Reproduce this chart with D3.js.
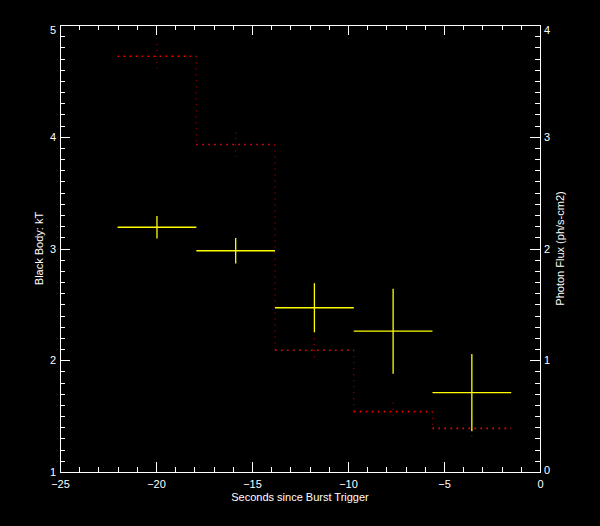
<!DOCTYPE html>
<html><head><meta charset="utf-8">
<script src="https://cdn.jsdelivr.net/npm/d3@7"></script>
<style>
html,body{margin:0;padding:0;background:#000;}
svg{display:block;}
text{font-family:"Liberation Sans","DejaVu Sans",sans-serif;fill:#fff;}
</style></head>
<body>
<script>
// ---- data ----
const binEdges = [-22, -17.9, -13.8, -9.7, -5.6, -1.5];
const kT = [3.19, 2.98, 2.47, 2.26, 1.71];
const kTErr = [0.10, 0.115, 0.22, 0.38, 0.345];
const flux = [3.72, 2.93, 1.09, 0.54, 0.39];
const fluxErr = [0.11, 0.11, 0.107, 0.08, 0.10];
const xTicks = [-25, -20, -15, -10, -5, 0];
const leftTicks = [1, 2, 3, 4, 5];
const rightTicks = [0, 1, 2, 3, 4];
const xTitle = "Seconds since Burst Trigger";
const leftTitle = "Black Body: kT";
const rightTitle = "Photon Flux (ph/s-cm2)";

const W = 600, H = 526;
const L = 60, R = 540, T = 25, B = 472;
const svg = d3.select("body").append("svg").attr("width", W).attr("height", H);
svg.append("rect").attr("width", W).attr("height", H).attr("fill", "#000");

const x = d3.scaleLinear().domain([-25, 0]).range([L, R]);
const yL = d3.scaleLinear().domain([1, 5]).range([B, T]);
const yR = d3.scaleLinear().domain([0, 4]).range([B, T]);

const fmt = v => (v < 0 ? "\u2212" + Math.abs(v) : String(v));
const xMinor = d3.range(-25, 0.001, 1).filter(v => !xTicks.includes(v));
const lMinor = d3.range(10, 50.001, 1).map(v => v / 10).filter(v => !leftTicks.includes(Math.round(v*10)/10) );
const rMinor = d3.range(0, 40.001, 1).map(v => v / 10).filter(v => !rightTicks.includes(Math.round(v*10)/10));

function style(g) {
  g.selectAll("path,line").attr("stroke", "#fff").attr("stroke-width", 1).attr("shape-rendering", "crispEdges");
  g.selectAll("text").attr("fill", "#fff").attr("font-size", 11)
    .attr("font-family", "Liberation Sans, DejaVu Sans, sans-serif");
}

// bottom axis
let g = svg.append("g").attr("transform", `translate(0,${B})`)
  .call(d3.axisBottom(x).tickValues(xTicks).tickFormat(fmt).tickSizeInner(-10).tickSizeOuter(0).tickPadding(8));
style(g);
g = svg.append("g").attr("transform", `translate(0,${B})`)
  .call(d3.axisBottom(x).tickValues(xMinor).tickFormat("").tickSizeInner(-5).tickSizeOuter(0));
style(g);
// top axis
g = svg.append("g").attr("transform", `translate(0,${T})`)
  .call(d3.axisTop(x).tickValues(xTicks).tickFormat("").tickSizeInner(-10).tickSizeOuter(0));
style(g);
g = svg.append("g").attr("transform", `translate(0,${T})`)
  .call(d3.axisTop(x).tickValues(xMinor).tickFormat("").tickSizeInner(-5).tickSizeOuter(0));
style(g);
// left axis
g = svg.append("g").attr("transform", `translate(${L},0)`)
  .call(d3.axisLeft(yL).tickValues(leftTicks).tickFormat(d3.format("d")).tickSizeInner(-10).tickSizeOuter(0).tickPadding(4));
style(g);
g.selectAll(".tick text").attr("dy", (d) => d === 5 ? "0.75em" : "0.32em");
g = svg.append("g").attr("transform", `translate(${L},0)`)
  .call(d3.axisLeft(yL).tickValues(lMinor).tickFormat("").tickSizeInner(-5).tickSizeOuter(0));
style(g);
// right axis
g = svg.append("g").attr("transform", `translate(${R},0)`)
  .call(d3.axisRight(yR).tickValues(rightTicks).tickFormat(d3.format("d")).tickSizeInner(-10).tickSizeOuter(0).tickPadding(4));
style(g);
g.selectAll(".tick text").attr("dy", (d) => d === 4 ? "0.75em" : (d === 0 ? "0.1em" : "0.32em"));
g = svg.append("g").attr("transform", `translate(${R},0)`)
  .call(d3.axisRight(yR).tickValues(rMinor).tickFormat("").tickSizeInner(-5).tickSizeOuter(0));
style(g);

// titles
svg.append("text").attr("x", (L + R) / 2).attr("y", 501).attr("text-anchor", "middle")
  .attr("font-size", 11).text(xTitle);
svg.append("text").attr("transform", `translate(43,${(T + B) / 2}) rotate(-90)`).attr("text-anchor", "middle")
  .attr("font-size", 11).text(leftTitle);
svg.append("text").attr("transform", `translate(564,${(T + B) / 2}) rotate(-90)`).attr("text-anchor", "middle")
  .attr("font-size", 11).text(rightTitle);

// step line (photon flux), dotted red
const bins = flux.map((f, i) => ({ x0: binEdges[i], x1: binEdges[i + 1], f, e: fluxErr[i], k: kT[i], ke: kTErr[i] }));
const stepG = svg.append("g");
bins.forEach((b, i) => {
  stepG.append("line").attr("x1", x(b.x0)).attr("x2", x(b.x1)).attr("y1", yR(b.f)).attr("y2", yR(b.f))
    .attr("stroke", "#ff0000").attr("stroke-width", 1.6).attr("stroke-dasharray", "1.6,4.4");
  if (i < bins.length - 1) {
    stepG.append("line").attr("x1", x(b.x1)).attr("x2", x(b.x1)).attr("y1", yR(b.f)).attr("y2", yR(bins[i + 1].f))
      .attr("stroke", "#cc0000").attr("stroke-width", 1).attr("stroke-dasharray", "1,5");
  }
  const cx = x((b.x0 + b.x1) / 2);
  stepG.append("line").attr("x1", cx).attr("x2", cx).attr("y1", yR(b.f + b.e)).attr("y2", yR(b.f - b.e))
    .attr("stroke", "#cc0000").attr("stroke-width", 1).attr("stroke-dasharray", "1,5");
});

// kT crosses
const cg = svg.append("g");
bins.forEach(b => {
  const cx = x((b.x0 + b.x1) / 2);
  cg.append("line").attr("x1", x(b.x0)).attr("x2", x(b.x1)).attr("y1", yL(b.k)).attr("y2", yL(b.k))
    .attr("stroke", "#ffff00").attr("stroke-width", 1.3);
  cg.append("line").attr("x1", cx).attr("x2", cx).attr("y1", yL(b.k + b.ke)).attr("y2", yL(b.k - b.ke))
    .attr("stroke", "#ffff00").attr("stroke-width", 1.3);
});
</script>
</body></html>
